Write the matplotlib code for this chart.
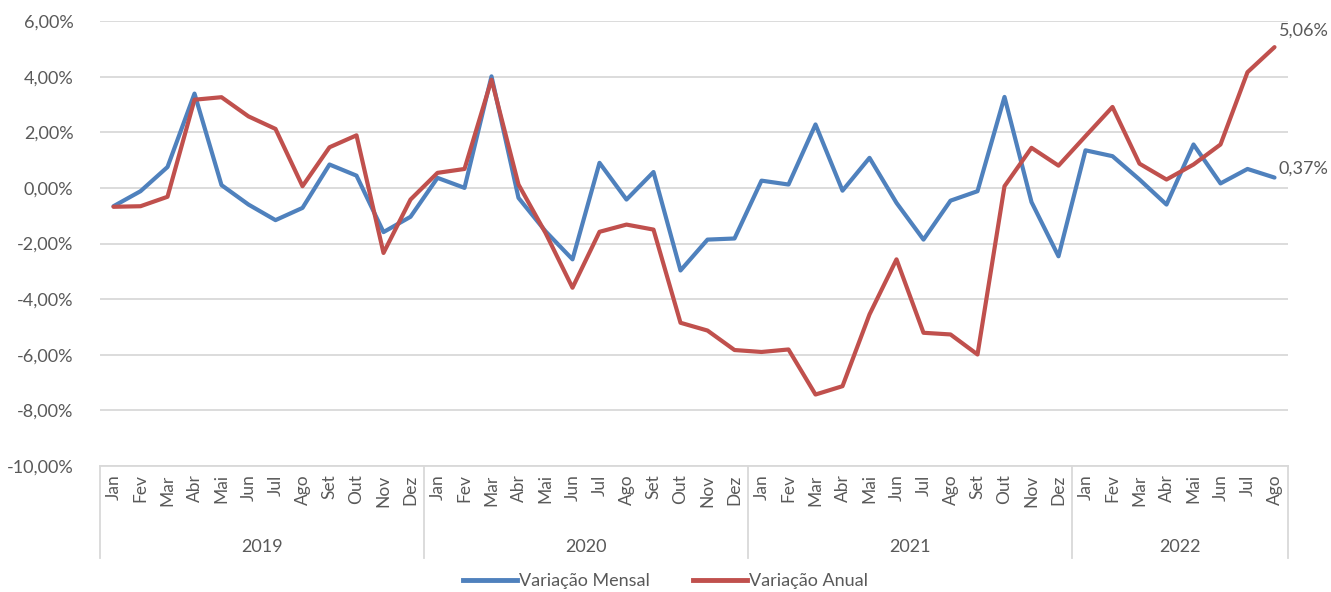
import matplotlib
matplotlib.use("Agg")
import matplotlib.pyplot as plt
from matplotlib.ticker import FuncFormatter
from matplotlib.lines import Line2D

years = ["2019", "2020", "2021", "2022"]
months = ["Jan", "Fev", "Mar", "Abr", "Mai", "Jun", "Jul", "Ago", "Set", "Out", "Nov", "Dez"]
month_labels = months * 3 + months[:8]

variacao_mensal = [
    -0.66, -0.12, 0.75, 3.39, 0.10, -0.60, -1.16, -0.72, 0.84, 0.44, -1.59, -1.04,
    0.36, 0.00, 4.01, -0.36, -1.56, -2.57, 0.90, -0.42, 0.57, -2.97, -1.86, -1.82,
    0.26, 0.12, 2.28, -0.10, 1.08, -0.54, -1.86, -0.46, -0.12, 3.27, -0.51, -2.46,
    1.35, 1.14, 0.30, -0.60, 1.56, 0.16, 0.68, 0.37,
]
variacao_anual = [
    -0.68, -0.66, -0.32, 3.17, 3.26, 2.57, 2.12, 0.06, 1.46, 1.89, -2.34, -0.42,
    0.54, 0.68, 3.89, 0.12, -1.62, -3.59, -1.58, -1.32, -1.50, -4.85, -5.13, -5.83,
    -5.90, -5.81, -7.43, -7.13, -4.55, -2.57, -5.21, -5.27, -5.99, 0.06, 1.44, 0.80,
    1.86, 2.91, 0.87, 0.30, 0.84, 1.56, 4.16, 5.06,
]
year_counts = [12, 12, 12, 8]

BLUE = "#4F81BD"
RED = "#C0504D"
GRID = "#D9D9D9"
TXT = "#595959"
plt.rcParams['font.family'] = ['Lato', 'DejaVu Sans']

fig = plt.figure(figsize=(13.31, 5.92), dpi=100)
ax = fig.add_axes([100/1331, 1-466/592, (1288-100)/1331, (466-21)/592])

x = list(range(len(month_labels)))
ax.plot(x, variacao_mensal, color=BLUE, lw=3.0, solid_joinstyle='round', solid_capstyle='round', zorder=3)
ax.plot(x, variacao_anual, color=RED, lw=3.0, solid_joinstyle='round', solid_capstyle='round', zorder=3)

ax.set_xlim(-0.5, len(x) - 0.5)
ax.set_ylim(-10, 6)
ax.set_yticks(range(-10, 7, 2))
ax.yaxis.set_major_formatter(FuncFormatter(lambda v, p: f"{v:.2f}%".replace(".", ",")))
ax.grid(axis='y', color=GRID, lw=1.3, zorder=0)
for s in ["top", "right", "left"]:
    ax.spines[s].set_visible(False)
ax.spines["bottom"].set_color(GRID)
ax.spines["bottom"].set_linewidth(1.3)
ax.tick_params(axis='y', length=0, labelsize=13, labelcolor=TXT, pad=19)
ax.set_xticks(x)
ax.set_xticklabels(month_labels, rotation=90, fontsize=12.5, color=TXT)
ax.tick_params(axis='x', length=0, pad=6)

# year separators and labels
trans = ax.get_xaxis_transform()
start = 0
bounds = [-0.5]
for yr, cnt in zip(years, year_counts):
    center = start + (cnt - 1) / 2
    ax.text(center, -0.182, yr, transform=trans, ha='center', va='center', fontsize=13, color=TXT)
    start += cnt
    bounds.append(start - 0.5)
for b in bounds:
    ax.plot([b, b], [0, -0.207], transform=trans, color=GRID, lw=1.3, clip_on=False)

# data labels
ax.annotate("5,06%", (x[-1], variacao_anual[-1]), xytext=(3, 6), textcoords='offset points',
            ha='left', va='bottom', fontsize=13, color=TXT)
ax.annotate("0,37%", (x[-1], variacao_mensal[-1]), xytext=(3, 1), textcoords='offset points',
            ha='left', va='bottom', fontsize=13, color=TXT)

handles = [Line2D([], [], color=BLUE, lw=3.5), Line2D([], [], color=RED, lw=3.5)]
leg = fig.legend(handles, ["Variação Mensal", "Variação Anual"], loc='center', bbox_to_anchor=(0.5, 0.018),
                 ncol=2, frameon=False, fontsize=13, handlelength=3.0, handletextpad=0.1, columnspacing=2.4)
for t in leg.get_texts():
    t.set_color(TXT)

fig.savefig("out.png", dpi=100)
